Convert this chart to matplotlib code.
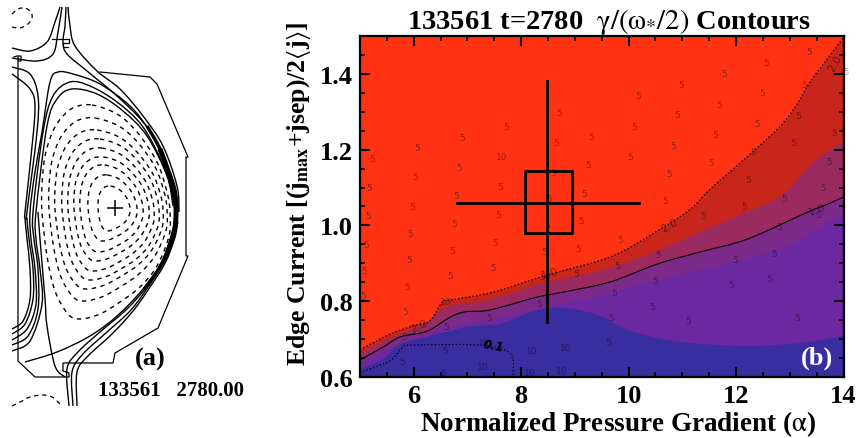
"""
Equilibrium flux surfaces (a) and edge stability contours (b) for shot 133561.
"""
import matplotlib
matplotlib.use('Agg')
import matplotlib.pyplot as plt
from matplotlib.path import Path
from matplotlib.patches import PathPatch
from matplotlib.ticker import MultipleLocator, FormatStrFormatter

plt.rcParams['font.family'] = ['Liberation Serif', 'DejaVu Serif']
plt.rcParams['mathtext.fontset'] = 'stix'

# ---------------------------------------------------------------------------
# Panel (b): boundaries between the coloured bands, alpha against edge current
# ---------------------------------------------------------------------------
BAND_COLORS = ['#ff3314', '#c8261a', '#9a2a60', '#7b2a8a', '#6c28a0', '#3a2da0']

alpha_c20 = [5.0, 5.56, 5.99, 6.30, 6.53, 6.68, 7.48, 8.48, 9.66, 10.53, 11.15, 11.52, 12.27, 12.83, 13.14, 13.38, 13.70, 14.0]
j_c20 = [.672, .713, .735, .748, .798, .803, .824, .869, .917, .985, 1.043, 1.096, 1.189, 1.263, 1.321, 1.379, 1.44, 1.495]

alpha_b2 = [5.0, 5.43, 5.75, 6.21, 6.62, 7.48, 8.48, 9.47, 10.4, 11.33, 12.32, 12.88, 13.44, 14.0]
j_b2 = [.662, .695, .713, .74, .785, .806, .851, .88, .925, .983, 1.043, 1.083, 1.167, 1.223]

alpha_c10 = [5.0, 5.43, 5.75, 6.25, 6.68, 6.96, 7.42, 8.3, 8.78, 9.66, 10.53, 11.33, 12.21, 13.33, 13.7, 14.0]
j_c10 = [.645, .679, .706, .721, .758, .772, .777, .811, .824, .851, .898, .93, .964, 1.035, 1.056, 1.075]

alpha_b4 = [5.0, 5.75, 6.68, 7.42, 8.48, 9.47, 10.59, 11.95, 12.96, 13.7, 14.0]
j_b4 = [.635, .687, .732, .748, .785, .814, .859, .904, .946, 1.009, 1.025]

alpha_blue = [5.0, 5.43, 5.75, 6.25, 6.99, 7.61, 8.07, 8.54, 9.0, 9.47, 10.09, 11.02, 12.27, 13.33, 14.0]
j_blue = [.62, .648, .687, .706, .732, .74, .766, .782, .779, .761, .719, .692, .682, .692, .708]

alpha_c01 = [5.0, 5.43, 5.61, 5.8, 5.99, 7.29, 7.8, 7.85]
j_c01 = [.612, .634, .648, .679, .684, .684, .661, .604]

cross_alpha = [6.8, 8.48, 10.2]
cross_j = [0.745, 1.06, 1.38]
box_alpha = [8.07, 8.95]
box_j = [0.98, 1.145]

five_alpha = [5.22, 5.17, 5.15, 6.06, 6.02, 5.97, 5.93, 6.90, 6.84, 6.79, 6.75, 7.72, 7.61, 7.57,
              8.71, 8.65, 8.60, 8.52, 8.48, 9.30, 9.25, 9.17, 9.12,
              13.37, 12.56, 11.78, 10.98, 10.18, 13.27, 12.49, 11.69, 10.91, 10.11, 13.16, 12.40,
              11.61, 10.83, 10.03, 13.83, 13.07, 12.32, 11.54, 10.76, 13.74, 12.23, 10.68, 13.63,
              12.90, 12.15, 11.39, 13.53,
              9.84, 10.55, 9.79, 11.99, 12.71, 12.81, 10.50, 9.73, 12.62, 11.91, 10.44, 9.68, 11.11,
              13.14, 9.62,
              5.11, 5.07, 5.06, 5.91, 5.88, 5.84, 5.82, 5.78, 6.71, 6.68, 6.60, 6.58, 6.55, 7.52,
              7.48, 7.40, 8.43, 8.39, 8.34, 9.06, 9.02]
five_j = [1.178, 1.099, 1.025, 1.207, 1.128, 1.051, .980, 1.233, 1.154, 1.078, 1.004, 1.260, 1.104, 1.030,
          1.297, 1.218, 1.141, 1.072, .999, 1.236, 1.160, 1.083, 1.012,
          1.458, 1.429, 1.400, 1.373, 1.344, 1.373, 1.350, 1.320, 1.294, 1.262, 1.291, 1.268,
          1.241, 1.212, 1.183, 1.244, 1.218, 1.194, 1.167, 1.138, 1.170, 1.120, 1.067, 1.099,
          1.070, 1.049, 1.025, 1.028,
          .964, .922, .893, .909, .927, .996, .856, .824, .861, .843, .787, .758, .750,
          .758, .695,
          .951, .882, .814, .909, .840, .772, .706, .642, .935, .867, .732, .669, .611, .956,
          .890, .756, .930, .864, .795, .940, .872]
ten_alpha = [7.63, 7.31, 7.29, 8.20, 8.82, 8.15, 8.76, 6.60]
ten_j = [1.181, .690, .629, .671, .677, .613, .616, .798]

# contour value, alpha, current, rotation
label_text = ['2.0', '1.0', '2.0', '2.0', '1.0']
label_alpha = [6.10, 8.52, 10.75, 13.84, 13.5]
label_j = [.737, .875, 1.0, 1.43, 1.043]
label_rot = [25, 15, 30, 60, 20]

# ---------------------------------------------------------------------------
# Panel (a): outlines in the drawing units of the equilibrium sketch
# ---------------------------------------------------------------------------
surf_x = [92, 117, 137, 157, 167, 170, 169, 157, 140, 120, 100, 80, 68, 55, 47, 42, 42, 45, 53, 63, 75]
surf_y = [106, 115, 133, 163, 193, 213, 237, 267, 288, 303, 315, 320, 315, 292, 257, 213, 187, 157, 132, 117, 108]

surf_left = [42, 49, 55, 62, 68, 74, 80, 88, 98]
surf_right = [170, 167, 163, 159, 154, 149, 143, 137, 130]
surf_top = [106, 119, 131, 140, 149, 158, 166, 176, 187]
surf_bottom = [320, 302, 290, 281, 272, 262, 253, 242, 232]

axis_x = [115]
axis_y = [209]

wall_x = [100, 150, 157, 188, 186, 186, 188, 158, 115, 113, 63, 63, 69, 69, 35, 18, 18]
wall_y = [73, 78, 85, 158, 158, 257, 257, 329, 354, 364, 364, 372, 374, 378, 378, 362, 58]
baffle_top_x = [52, 69, 69, 63, 63, 68]
baffle_top_y = [40, 40, 44, 44, 48, 48]
baffle_left_x = [14, 17, 21, 21, 18]
baffle_left_y = [58, 57, 57, 62, 62]

legs = [
    ([68, 70, 75, 97, 120, 143, 163, 177, 179], [8, 27, 47, 72, 90, 117, 147, 187, 213]),
    ([66, 65, 63, 67, 87, 117, 143, 160, 175, 178], [8, 27, 43, 55, 72, 97, 123, 150, 187, 213]),
    ([12, 37, 53, 58, 62], [59, 62, 55, 33, 8]),
    ([12, 30, 47, 55, 60], [49, 52, 43, 23, 8]),
    ([12, 30, 35, 30, 25, 25, 27, 30, 30, 23, 12], [75, 90, 110, 167, 213, 220, 240, 270, 300, 322, 330]),
    ([12, 30, 38, 37, 27, 27, 29, 33, 33, 25, 12], [68, 75, 97, 133, 213, 220, 240, 270, 300, 325, 335]),
    ([12, 27, 36, 35, 31, 30, 35, 42, 50, 58, 73, 100, 130, 150, 167, 177],
     [341, 330, 305, 270, 240, 213, 173, 133, 83, 73, 75, 85, 107, 133, 167, 200]),
    ([12, 28, 38, 38, 34, 33, 43, 53, 70, 90, 117, 143, 165, 175],
     [346, 337, 310, 270, 240, 213, 133, 97, 83, 87, 103, 128, 170, 203]),
    ([12, 30, 42, 40, 36, 36, 47, 57, 72, 97, 123, 147, 167, 173],
     [352, 342, 305, 270, 240, 213, 127, 100, 90, 95, 112, 137, 177, 207]),
    ([38, 40, 45, 47, 55, 65], [213, 240, 300, 327, 367, 378]),
    ([25, 57, 90, 117, 143, 163, 175], [363, 353, 337, 317, 290, 260, 223]),
    ([69, 67, 78, 100, 127, 147, 163, 176], [407, 370, 353, 333, 310, 287, 260, 223]),
    ([73, 72, 83, 107, 130, 148, 165, 177], [407, 373, 355, 333, 312, 288, 260, 223]),
    ([77, 77, 88, 112, 133, 150, 167, 178], [407, 373, 357, 335, 312, 288, 260, 223]),
]
bundle_x = [147, 160, 170, 175, 176, 174, 166, 154, 144]
bundle_y = [127, 150, 178, 200, 215, 235, 258, 277, 290]
bundle_core_x = [160, 170, 175, 176, 174, 166]
bundle_core_y = [150, 178, 200, 215, 235, 258]

coil_top_x = [12, 18, 25, 31, 32, 28, 20, 12]
coil_top_y = [15, 10, 9, 13, 19, 25, 29, 28]
coil_bottom_x = [12, 22, 30, 42, 52, 60]
coil_bottom_y = [407, 402, 398, 396, 398, 405]


def spline_verts(x, y, closed=False):
    """Bezier control points of a Catmull-Rom curve through the given points."""
    pts = list(zip(x, y))
    n = len(pts)
    verts = [pts[0]]
    last = n if closed else n - 1
    for i in range(last):
        if closed:
            p0, p1, p2, p3 = pts[i - 1], pts[i], pts[(i + 1) % n], pts[(i + 2) % n]
        else:
            p0, p1, p2, p3 = pts[max(i - 1, 0)], pts[i], pts[i + 1], pts[min(i + 2, n - 1)]
        c1 = (p1[0] + (p2[0] - p0[0]) / 6, p1[1] + (p2[1] - p0[1]) / 6)
        c2 = (p2[0] - (p3[0] - p1[0]) / 6, p2[1] - (p3[1] - p1[1]) / 6)
        verts += [c1, c2, p2]
    return verts


def curve_path(x, y, closed=False):
    verts = spline_verts(x, y, closed)
    return Path(verts, [Path.MOVETO] + [Path.CURVE4] * (len(verts) - 1))


def add_curve(ax, x, y, closed=False, **kw):
    ax.add_patch(PathPatch(curve_path(x, y, closed), fill=False, **kw))


def add_band(ax, x, y, color):
    # area under a smooth boundary, closed along the lower axis
    verts = spline_verts(x, y)
    codes = [Path.MOVETO] + [Path.CURVE4] * (len(verts) - 1)
    verts += [(14, 0.6), (5, 0.6), verts[0]]
    codes += [Path.LINETO, Path.LINETO, Path.CLOSEPOLY]
    ax.add_patch(PathPatch(Path(verts, codes), facecolor=color, edgecolor='none', lw=0, zorder=1))


def draw_equilibrium(ax):
    ax.set_xlim(0, 250)
    ax.set_ylim(439, 0)
    ax.axis('off')

    x0, x1 = min(surf_x), max(surf_x)
    y0, y1 = min(surf_y), max(surf_y)
    for left, right, top, bottom in zip(surf_left, surf_right, surf_top, surf_bottom):
        xs = [left + (v - x0) / (x1 - x0) * (right - left) for v in surf_x]
        ys = [top + (v - y0) / (y1 - y0) * (bottom - top) for v in surf_y]
        add_curve(ax, xs, ys, closed=True, color='black', lw=1.0, ls=(0, (3.2, 3.2)))

    for x, y in legs:
        add_curve(ax, x, y, color='black', lw=1.0)
    add_curve(ax, bundle_x, bundle_y, color='black', lw=2.4)
    add_curve(ax, bundle_core_x, bundle_core_y, color='black', lw=3.6)

    ax.plot(wall_x, wall_y, color='black', lw=0.9)
    ax.plot(baffle_top_x, baffle_top_y, color='black', lw=0.9)
    ax.plot(baffle_left_x, baffle_left_y, color='black', lw=0.9)
    add_curve(ax, coil_top_x, coil_top_y, color='black', lw=0.9, ls=(0, (3.5, 3)))
    add_curve(ax, coil_bottom_x, coil_bottom_y, color='black', lw=0.9, ls=(0, (3.5, 3)))

    ax.plot(axis_x, axis_y, marker='+', ms=11, mew=1.1, color='black')
    ax.text(150, 359, '(a)', fontsize=19, fontweight='bold', ha='center', va='center')
    ax.text(171, 391, '133561   2780.00', fontsize=15, fontweight='bold', ha='center', va='center')


def draw_contours(ax):
    ax.set_xlim(5, 14)
    ax.set_ylim(0.6, 1.5)
    ax.set_facecolor(BAND_COLORS[0])

    bands = [(alpha_c20, j_c20), (alpha_b2, j_b2), (alpha_c10, j_c10), (alpha_b4, j_b4), (alpha_blue, j_blue)]
    for color, (a, j) in zip(BAND_COLORS[1:], bands):
        add_band(ax, a, j, color)

    add_curve(ax, alpha_c20, j_c20, color='black', lw=1.0, ls=(0, (1, 1.6)), zorder=2)
    add_curve(ax, alpha_c10, j_c10, color='black', lw=0.8, zorder=2)
    add_curve(ax, alpha_c01, j_c01, color='black', lw=0.9, ls=(0, (1, 1.8)), zorder=2)

    for a, j in zip(five_alpha, five_j):
        ax.text(a, j, '5', fontsize=6.5, family='DejaVu Sans', color='black', alpha=0.4,
                ha='center', va='center', zorder=3)
    for a, j in zip(ten_alpha, ten_j):
        ax.text(a, j, '10', fontsize=6.5, family='DejaVu Sans', color='black', alpha=0.4,
                ha='center', va='center', zorder=3)
    for t, a, j, rot in zip(label_text, label_alpha, label_j, label_rot):
        ax.text(a, j, t, fontsize=8, family='DejaVu Sans', color='black', alpha=0.45, rotation=rot,
                ha='center', va='center', zorder=3)
    ax.text(7.48, 0.683, '0.1', fontsize=8.5, family='DejaVu Sans', fontweight='bold', style='italic',
            rotation=-10, ha='center', va='center', zorder=4)
    ax.text(14.05, 1.405, '5', fontsize=6, family='DejaVu Sans', color='black', alpha=0.35,
            ha='center', va='center', clip_on=False)

    # operating point with error bars
    ax.plot([cross_alpha[0], cross_alpha[2]], [cross_j[1], cross_j[1]], color='black', lw=2, zorder=5)
    ax.plot([cross_alpha[1], cross_alpha[1]], [cross_j[0], cross_j[2]], color='black', lw=2, zorder=5)
    ax.plot([box_alpha[0], box_alpha[1], box_alpha[1], box_alpha[0], box_alpha[0]],
            [box_j[0], box_j[0], box_j[1], box_j[1], box_j[0]], color='black', lw=2, zorder=5)

    ax.xaxis.set_major_locator(MultipleLocator(2))
    ax.xaxis.set_minor_locator(MultipleLocator(0.5))
    ax.yaxis.set_major_locator(MultipleLocator(0.2))
    ax.yaxis.set_minor_locator(MultipleLocator(0.05))
    ax.yaxis.set_major_formatter(FormatStrFormatter('%.1f'))
    ax.tick_params(which='major', direction='in', top=True, right=True, length=7, width=1.5, pad=5)
    ax.tick_params(which='minor', direction='in', top=True, right=True, length=3.5, width=1.3)
    for lab in ax.get_xticklabels() + ax.get_yticklabels():
        lab.set_fontsize(19)
        lab.set_fontweight('bold')
    for sp in ax.spines.values():
        sp.set_linewidth(1.6)
        sp.set_zorder(6)

    ax.set_xlabel(r'Normalized Pressure Gradient ($\mathrm{\alpha}$)', fontsize=19.5, fontweight='bold',
                  labelpad=1, x=0.533)
    ax.set_ylabel(r'Edge Current [(j$_{\mathbf{max}}$+jsep)/2$\langle$j$\rangle$]', fontsize=18.5,
                  fontweight='bold', labelpad=5, y=0.54)
    ax.set_title(r'133561 t=2780  $\mathrm{\gamma}/(\mathrm{\omega}_{*}/2)$ Contours', fontsize=20.5,
                 fontweight='bold', pad=4, x=0.515)
    ax.text(13.5, 0.651, '(b)', fontsize=19, fontweight='bold', color='white', ha='center', va='center', zorder=6)


def main():
    fig = plt.figure(figsize=(8.59, 4.39), dpi=100)
    ax_eq = fig.add_axes([0, 0, 250 / 859, 1])
    ax_gr = fig.add_axes([360 / 859, 61 / 439, 483.5 / 859, 341 / 439])
    draw_equilibrium(ax_eq)
    draw_contours(ax_gr)
    fig.savefig('out.png', dpi=100)
    plt.close(fig)


if __name__ == "__main__":
    main()
